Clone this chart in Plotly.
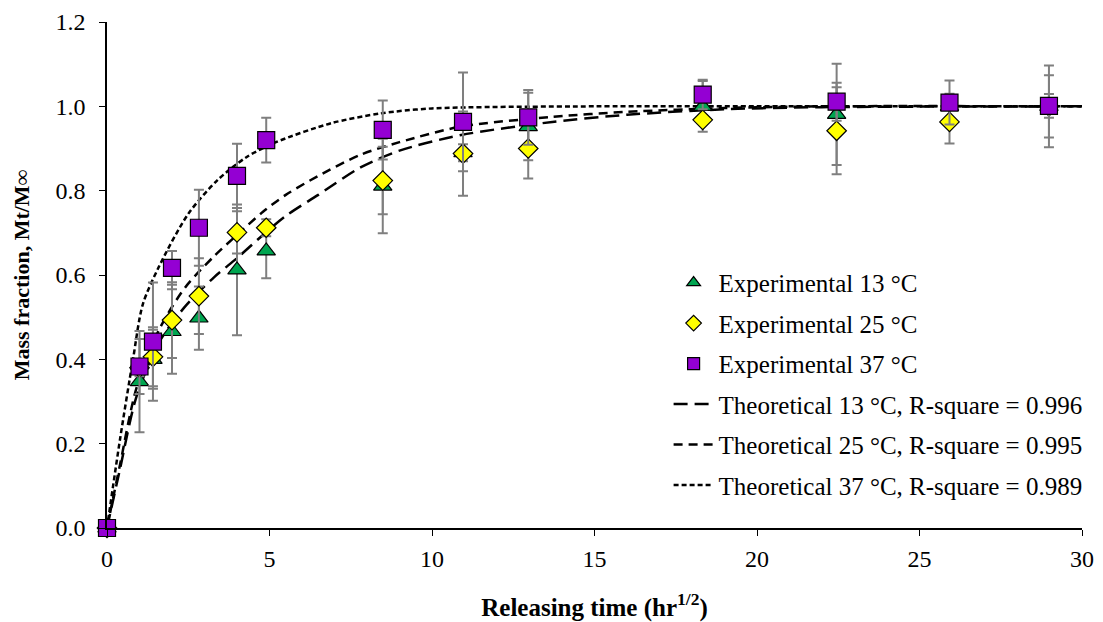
import plotly.graph_objects as go

# Releasing time (hr^1/2) of the experimental points
x_exp = [0, 1.0, 1.414, 2.0, 2.828, 4.0, 4.899, 8.485, 10.954, 12.961, 18.330, 22.450, 25.923, 28.983]

# Experimental mass fractions and error bars
y13 = [0, 0.347, 0.400, 0.466, 0.498, 0.612, 0.657, 0.811, 0.890, 0.952, 1.000, 0.981, 1.000, 1.000]
e13 = [0, 0.120, 0.070, 0.100, 0.075, 0.155, 0.065, 0.112, 0.020, 0.080, 0.060, 0.120, 0.030, 0.097]
y25 = [0, 0.380, 0.406, 0.493, 0.550, 0.701, 0.712, 0.824, 0.888, 0.900, 0.968, 0.942, 0.963, 1.000]
e25 = [0, 0.020, 0.070, 0.090, 0.090, 0.050, 0.020, 0.080, 0.100, 0.071, 0.010, 0.103, 0.051, 0.074]
y37 = [0, 0.383, 0.442, 0.617, 0.712, 0.835, 0.920, 0.944, 0.963, 0.974, 1.028, 1.011, 1.009, 1.001]
e37 = [0, 0.065, 0.140, 0.040, 0.090, 0.076, 0.053, 0.070, 0.117, 0.065, 0.035, 0.045, 0.052, 0.028]

# Theoretical curves
xt13 = [0, 0.4, 0.9, 1.6, 2.4, 3.3, 4.0, 4.8, 5.5, 6.5, 7.8, 9.0, 10.9, 13.7, 16, 19, 22, 30]
yt13 = [0, 0.14, 0.31, 0.44, 0.525, 0.595, 0.64, 0.695, 0.74, 0.79, 0.855, 0.895, 0.932, 0.963, 0.980, 0.993, 0.998, 1.0]
xt25 = [0, 0.4, 0.9, 1.6, 2.4, 3.3, 4.0, 4.8, 5.5, 6.5, 7.8, 9.0, 10.9, 13.7, 16, 19, 22, 30]
yt25 = [0, 0.15, 0.33, 0.47, 0.57, 0.645, 0.695, 0.75, 0.79, 0.835, 0.885, 0.915, 0.952, 0.975, 0.987, 0.996, 1.0, 1.0]
xt37 = [0, 0.4, 0.8, 1.1, 1.6, 2.5, 3.4, 4.3, 5.2, 6.9, 8.4, 10.0, 15, 20, 30]
yt37 = [0, 0.21, 0.40, 0.53, 0.62, 0.745, 0.825, 0.88, 0.915, 0.96, 0.983, 0.995, 1.0, 1.0, 1.0]

names_exp = ["Experimental 13 °C", "Experimental 25 °C", "Experimental 37 °C"]
names_th = ["Theoretical 13 °C, R-square = 0.996",
            "Theoretical 25 °C, R-square = 0.995",
            "Theoretical 37 °C, R-square = 0.989"]
x_ticks = [0, 5, 10, 15, 20, 25, 30]
y_ticks = [0.0, 0.2, 0.4, 0.6, 0.8, 1.0, 1.2]

fig = go.Figure()

line_specs = [(xt13, yt13, "14px,7px"), (xt25, yt25, "9px,6px"), (xt37, yt37, "5px,3px")]
for i, (xs, ys, dash) in enumerate(line_specs):
    fig.add_trace(go.Scatter(
        x=xs, y=ys, mode="lines", name=names_th[i], line_shape="spline",
        line=dict(color="black", width=2.5, dash=dash, smoothing=0.8),
        legendrank=4 + i, legendgroup="t%d" % i, showlegend=True))

mk_specs = [(y13, e13, "triangle-up", "#00A550", 16),
            (y25, e25, "diamond", "#FFFF00", 15),
            (y37, e37, "square", "#9400D3", 17)]
for i, (ys, es, sym, col, sz) in enumerate(mk_specs):
    fig.add_trace(go.Scatter(
        x=x_exp, y=ys, mode="markers", name=names_exp[i], cliponaxis=False,
        marker=dict(symbol=sym, color=col, size=sz, line=dict(color="black", width=1.2)),
        error_y=dict(type="data", array=es, visible=True, color="#7F7F7F", thickness=2, width=5),
        legendgroup="e%d" % i, showlegend=False))
    # legend entry with the smaller symbol used in the reference legend
    fig.add_trace(go.Scatter(
        x=[None], y=[None], mode="markers", name=names_exp[i],
        marker=dict(symbol=sym, color=col, size=12, line=dict(color="black", width=1.2)),
        legendrank=1 + i, legendgroup="e%d" % i, showlegend=True))

serif = "Liberation Serif, Times New Roman, serif"
fig.update_layout(
    width=1095, height=614,
    margin=dict(l=99, r=21, t=14, b=94),
    paper_bgcolor="white", plot_bgcolor="white",
    font=dict(family=serif, size=24, color="black"),
    showlegend=True,
    legend=dict(x=0.576, y=0.53, xanchor="left", yanchor="top",
                bgcolor="rgba(0,0,0,0)", font=dict(family=serif, size=25, color="black"),
                tracegroupgap=5, itemwidth=40),
    xaxis=dict(range=[0, 30], tickvals=x_ticks, ticks="outside", ticklen=6, tickcolor="black",
               showline=True, linecolor="black", linewidth=1.5, showgrid=False, zeroline=False,
               tickfont=dict(family=serif, size=24), ticklabelstandoff=2, automargin=False,
               title=dict(text="<b>Releasing time (hr<sup>1/2</sup>)</b>", font=dict(family=serif, size=25), standoff=28)),
    yaxis=dict(range=[0, 1.2], tickvals=y_ticks, tickformat=".1f", ticks="outside", ticklen=6, tickcolor="black",
               showline=True, linecolor="black", linewidth=1.5, showgrid=False, zeroline=False,
               tickfont=dict(family=serif, size=24), ticklabelstandoff=9, automargin=False,
               title=dict(text="<b>Mass fraction, Mt/M∞</b>", font=dict(family=serif, size=22), standoff=20)),
)

fig.write_html("out.html")
